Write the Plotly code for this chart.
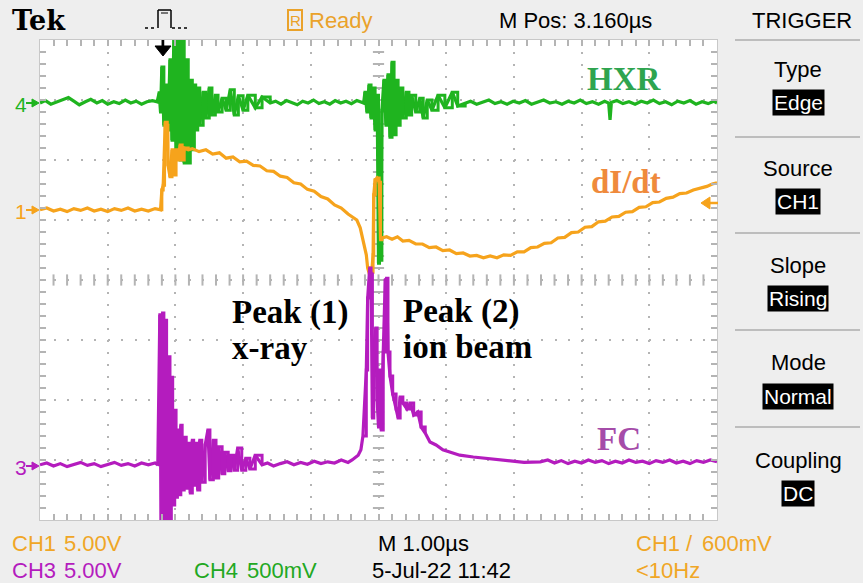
import plotly.graph_objects as go

W, H = 863, 583

def px(x):
    return x / W

def py(y):
    return 1 - y / H

# ---------------- data (time in µs, amplitude in screen divisions) ----------------
hxr_pts = [
    (0.00, 2.95), (0.08, 2.99), (0.16, 2.93), (0.25, 2.97), (0.33, 3.00), (0.42, 3.04), (0.50, 2.98),
    (0.58, 2.92), (0.67, 2.97), (0.75, 3.01), (0.84, 2.95), (0.92, 2.99), (1.00, 2.93), (1.09, 2.97),
    (1.17, 2.94), (1.26, 3.00), (1.34, 2.95), (1.42, 2.98), (1.50, 2.93), (1.58, 2.97), (1.66, 2.99),
    (1.73, 2.97), (1.76, 3.12), (1.78, 2.80), (1.80, 3.55), (1.83, 2.58), (1.86, 3.25), (1.89, 2.50),
    (1.92, 3.67), (1.95, 2.33), (1.98, 4.20), (2.01, 2.17), (2.04, 4.30), (2.07, 2.00), (2.10, 4.20),
    (2.13, 1.95), (2.16, 3.67), (2.19, 1.95), (2.22, 3.33), (2.25, 2.17), (2.28, 3.25), (2.30, 2.50),
    (2.33, 3.20), (2.36, 2.58), (2.41, 3.13), (2.45, 2.70), (2.50, 3.20), (2.54, 2.75), (2.59, 3.08),
    (2.63, 2.80), (2.69, 3.03), (2.75, 2.83), (2.81, 3.17), (2.87, 2.75), (2.93, 3.07), (3.00, 2.83),
    (3.07, 3.08), (3.18, 2.87), (3.28, 3.05), (3.40, 2.95),
    (3.48, 2.98), (3.56, 2.93), (3.64, 2.99), (3.72, 2.95), (3.80, 2.92), (3.88, 2.98), (3.96, 2.95),
    (4.04, 3.00), (4.12, 2.94), (4.20, 2.97), (4.28, 2.93), (4.36, 2.99), (4.44, 2.95), (4.52, 2.98),
    (4.60, 2.94), (4.68, 2.99), (4.78, 2.95),
    (4.80, 3.13), (4.83, 2.80), (4.86, 3.25), (4.89, 2.70), (4.92, 3.20), (4.95, 2.50), (4.98, 3.08),
    (5.00, 0.28), (5.015, 1.40), (5.03, 0.33), (5.05, 2.83), (5.08, 3.33), (5.11, 2.58), (5.14, 3.42),
    (5.17, 2.38), (5.20, 3.63), (5.23, 2.42), (5.26, 3.33), (5.29, 2.58), (5.32, 3.20), (5.36, 2.70),
    (5.41, 3.13), (5.45, 2.75), (5.49, 3.08), (5.55, 2.80), (5.61, 3.03), (5.66, 2.70), (5.72, 3.00),
    (5.79, 2.83), (5.88, 3.08), (5.98, 2.87), (6.09, 3.13), (6.17, 2.90), (6.28, 2.95),
    (6.36, 2.98), (6.45, 2.93), (6.54, 2.97), (6.63, 3.00), (6.72, 2.94), (6.81, 2.97), (6.90, 2.93),
    (6.99, 2.98), (7.08, 2.95), (7.17, 2.99), (7.26, 2.93), (7.35, 2.96), (7.44, 3.00), (7.53, 2.95),
    (7.62, 2.97), (7.71, 2.93), (7.80, 2.98), (7.89, 2.95), (7.98, 3.00), (8.07, 2.94), (8.16, 2.97),
    (8.25, 2.93), (8.34, 2.98), (8.40, 2.95), (8.42, 2.67), (8.44, 2.96), (8.52, 2.99), (8.61, 2.94),
    (8.70, 2.97), (8.79, 2.93), (8.88, 2.98), (8.97, 2.95), (9.06, 3.00), (9.15, 2.94), (9.24, 2.97),
    (9.33, 2.92), (9.42, 2.98), (9.51, 2.95), (9.60, 2.99), (9.69, 2.93), (9.78, 2.97), (9.87, 2.94),
    (9.95, 2.98), (10.0, 2.95),
]

didt_pts = [
    (0.00, 1.17), (0.10, 1.20), (0.20, 1.15), (0.30, 1.18), (0.40, 1.14), (0.50, 1.19), (0.60, 1.16),
    (0.70, 1.20), (0.80, 1.15), (0.90, 1.18), (1.00, 1.14), (1.10, 1.19), (1.20, 1.16), (1.30, 1.20),
    (1.40, 1.15), (1.50, 1.18), (1.60, 1.15), (1.70, 1.19), (1.78, 1.17),
    (1.80, 1.50), (1.82, 1.58), (1.84, 2.17), (1.85, 2.63), (1.88, 2.58), (1.89, 1.92), (1.92, 1.72),
    (1.95, 2.17), (1.98, 1.75), (2.01, 2.17), (2.04, 2.00), (2.07, 2.25), (2.10, 2.00), (2.13, 2.20),
    (2.19, 2.17), (2.25, 2.19), (2.35, 2.14), (2.45, 2.17), (2.55, 2.10), (2.65, 2.12), (2.75, 2.03),
    (2.85, 2.05), (2.95, 1.97), (3.05, 1.98), (3.15, 1.91), (3.25, 1.90), (3.35, 1.82), (3.45, 1.81),
    (3.55, 1.73), (3.65, 1.71), (3.75, 1.62), (3.85, 1.60), (3.95, 1.51), (4.05, 1.48), (4.15, 1.39),
    (4.25, 1.35), (4.35, 1.25), (4.45, 1.20), (4.55, 1.10), (4.62, 1.04), (4.68, 1.00), (4.73, 0.87),
    (4.77, 0.67), (4.82, 0.42), (4.84, 0.20), (4.87, 0.08), (4.90, 0.13), (4.92, 0.42), (4.93, 1.42),
    (4.95, 1.67), (4.98, 1.70), (5.01, 1.63), (5.03, 0.67), (5.05, 0.70),
    (5.12, 0.72), (5.20, 0.68), (5.28, 0.72), (5.36, 0.65), (5.45, 0.66), (5.55, 0.60), (5.65, 0.60),
    (5.75, 0.54), (5.85, 0.55), (5.95, 0.49), (6.05, 0.50), (6.15, 0.44), (6.25, 0.45), (6.35, 0.40),
    (6.45, 0.41), (6.55, 0.37), (6.65, 0.40), (6.75, 0.37), (6.85, 0.42), (6.95, 0.41), (7.05, 0.47),
    (7.15, 0.47), (7.25, 0.54), (7.35, 0.55), (7.45, 0.61), (7.55, 0.62), (7.65, 0.70), (7.75, 0.71),
    (7.85, 0.79), (7.95, 0.80), (8.05, 0.88), (8.15, 0.89), (8.25, 0.97), (8.35, 0.98), (8.45, 1.05),
    (8.55, 1.06), (8.65, 1.13), (8.75, 1.14), (8.85, 1.21), (8.95, 1.22), (9.05, 1.29), (9.15, 1.30),
    (9.25, 1.36), (9.35, 1.38), (9.45, 1.44), (9.55, 1.45), (9.65, 1.50), (9.75, 1.53), (9.85, 1.56),
    (9.93, 1.60), (10.0, 1.62),
]

fc_pts = [
    (0.00, -3.08), (0.10, -3.05), (0.20, -3.10), (0.30, -3.06), (0.40, -3.11), (0.50, -3.07),
    (0.60, -3.04), (0.70, -3.09), (0.80, -3.06), (0.90, -3.11), (1.00, -3.07), (1.10, -3.04),
    (1.20, -3.09), (1.30, -3.06), (1.40, -3.10), (1.50, -3.05), (1.60, -3.08), (1.70, -3.05),
    (1.74, -3.08), (1.77, -0.58), (1.79, -4.30), (1.81, -0.55), (1.83, -4.30), (1.85, -0.67),
    (1.87, -4.30), (1.90, -1.28), (1.92, -4.20), (1.94, -1.62), (1.96, -3.75), (1.99, -2.17),
    (2.01, -3.62), (2.03, -2.50), (2.05, -3.58), (2.08, -2.42), (2.10, -3.50), (2.13, -2.62),
    (2.16, -3.47), (2.19, -2.72), (2.22, -3.55), (2.25, -2.67), (2.27, -3.42), (2.30, -2.72),
    (2.33, -3.50), (2.36, -2.67), (2.39, -3.37), (2.44, -2.75), (2.48, -2.50), (2.51, -3.33),
    (2.56, -2.67), (2.60, -3.30), (2.64, -2.78), (2.69, -3.23), (2.73, -2.87), (2.78, -3.18),
    (2.82, -2.92), (2.87, -3.17), (2.92, -2.80), (2.98, -3.17), (3.04, -2.97), (3.10, -3.15),
    (3.18, -2.92), (3.28, -3.08),
    (3.36, -3.05), (3.45, -3.10), (3.55, -3.06), (3.65, -3.03), (3.75, -3.08), (3.85, -3.04),
    (3.95, -3.07), (4.05, -3.02), (4.15, -3.06), (4.25, -3.03), (4.35, -3.05), (4.45, -3.00),
    (4.55, -3.04), (4.61, -3.00), (4.70, -2.92), (4.74, -2.83), (4.77, -2.60), (4.82, -1.50),
    (4.84, -0.30), (4.87, 0.20), (4.89, 0.10), (4.91, -2.30), (4.93, -1.20), (4.96, -0.80),
    (4.98, -2.00), (5.00, -2.45), (5.02, -1.50), (5.04, -2.50), (5.07, -1.20), (5.10, 0.00),
    (5.12, 0.03), (5.14, -1.20), (5.17, -1.60), (5.21, -1.90), (5.26, -2.15), (5.29, -2.30),
    (5.32, -1.95), (5.36, -2.05), (5.42, -2.15), (5.47, -2.05), (5.52, -2.25), (5.58, -2.20),
    (5.63, -2.45), (5.69, -2.55), (5.76, -2.70), (5.85, -2.75), (5.95, -2.83), (6.06, -2.87),
    (6.20, -2.92), (6.40, -2.95), (6.65, -2.98), (6.90, -3.00), (7.15, -3.04), (7.39, -3.03),
    (7.50, -3.00), (7.60, -3.05), (7.70, -3.01), (7.80, -3.06), (7.90, -3.02), (8.00, -3.05),
    (8.10, -3.00), (8.20, -3.04), (8.30, -3.01), (8.40, -3.06), (8.50, -3.02), (8.60, -3.05),
    (8.70, -3.00), (8.80, -3.04), (8.90, -3.02), (9.00, -3.06), (9.10, -3.01), (9.20, -3.04),
    (9.30, -3.00), (9.40, -3.05), (9.50, -3.02), (9.60, -3.06), (9.70, -3.01), (9.80, -3.04),
    (9.90, -3.00), (10.0, -3.03),
]

# time windows (µs) where each channel shows a dense burst
hxr_bursts = [(1.73, 3.40), (4.78, 6.28)]
didt_bursts = [(1.78, 2.19), (4.84, 5.05)]
fc_bursts = [(1.74, 3.28), (4.77, 5.70)]

trigger_menu = [("Type", "Edge"), ("Source", "CH1"), ("Slope", "Rising"), ("Mode", "Normal"), ("Coupling", "DC")]

GREEN = "#1fb41f"
ORANGE = "#f6a31c"
PURPLE = "#b41cbe"
GRID = "#b4b4b4"
SANS = "Liberation Sans, Arial, sans-serif"
SERIF = "Liberation Serif, Times New Roman, serif"

fig = go.Figure()

def add_channel(pts, bursts, color, name):
    t = [p[0] for p in pts]
    v = [p[1] for p in pts]
    fig.add_trace(go.Scatter(x=t, y=v, mode="lines", name=name,
                             line=dict(color=color, width=3.2), hoverinfo="skip"))
    for a, b in bursts:
        bt = [p[0] for p in pts if a <= p[0] <= b]
        bv = [p[1] for p in pts if a <= p[0] <= b]
        fig.add_trace(go.Scatter(x=bt, y=bv, mode="lines", name=name,
                                 line=dict(color=color, width=3, shape="hv"), hoverinfo="skip"))

# center-line tick marks (graticule decoration)
cx = [0.2 * k for k in range(1, 50)]
fig.add_trace(go.Scatter(x=cx, y=[0] * len(cx), mode="markers", hoverinfo="skip",
                         marker=dict(symbol="line-ns", size=8, line=dict(color=GRID, width=2))))
cy = [-4 + 0.2 * k for k in range(1, 40)]
fig.add_trace(go.Scatter(x=[5] * len(cy), y=cy, mode="markers", hoverinfo="skip",
                         marker=dict(symbol="line-ew", size=8, line=dict(color=GRID, width=2))))

add_channel(hxr_pts, hxr_bursts, GREEN, "CH4")
add_channel(didt_pts, didt_bursts, ORANGE, "CH1")
add_channel(fc_pts, fc_bursts, PURPLE, "CH3")

ann = []

def text(x, y, s, size=22, color="black", family=SANS, anchor="left", **kw):
    ann.append(dict(x=px(x), y=py(y), xref="paper", yref="paper", text=s, showarrow=False,
                    xanchor=anchor, yanchor="middle", font=dict(size=size, color=color, family=family), **kw))

# header
text(10, 21, "<b>Tek</b>", size=27, family="DejaVu Serif, Liberation Serif, serif")
text(307, 20, "Ready", size=22, color="#eaa22a")
text(295, 20, "R", size=15, color="#eaa22a", anchor="center")
text(497, 20, "M Pos: 3.160\u00b5s", size=22)
text(750, 20, "TRIGGER", size=22)

# status bar
text(10, 543, "CH1", size=22, color="#f0a626")
text(62, 543, "5.00V", size=22, color="#f0a626")
text(376, 543, "M 1.00\u00b5s", size=22)
text(634, 543, "CH1", size=22, color="#f0a626")
text(684, 543, "/", size=22, color="#f0a626")
text(700, 543, "600mV", size=22, color="#f0a626")
text(10, 570, "CH3", size=22, color=PURPLE)
text(62, 570, "5.00V", size=22, color=PURPLE)
text(192, 570, "CH4", size=22, color="#22a822")
text(245, 570, "500mV", size=22, color="#22a822")
text(370, 570, "5-Jul-22 11:42", size=22)
text(634, 570, "<10Hz", size=22, color="#f0a626")

# trigger menu
menu_y = [(70, 103), (168, 201), (265, 298), (362, 396), (460, 493)]
for (lab, val), (y1, y2) in zip(trigger_menu, menu_y):
    text(798, y1, lab, size=22, anchor="center")
    text(798, y2, val, size=21, color="white", anchor="center", bgcolor="black", borderpad=1)

# channel markers
text(13, 104, "4", size=21, color=GREEN)
text(13, 211, "1", size=21, color=ORANGE)
text(13, 467, "3", size=21, color=PURPLE)

# in-plot labels
text(624, 79, "<b>HXR</b>", size=33, color="#2ea44f", family=SERIF, anchor="center")
text(626, 182, "<b>dI/dt</b>", size=33, color="#ef8a3c", family=SERIF, anchor="center")
text(230, 312, "<b>Peak (1)</b>", size=33, family=SERIF)
text(230, 348, "<b>x-ray</b>", size=33, family=SERIF)
text(401, 311, "<b>Peak (2)</b>", size=33, family=SERIF)
text(401, 347, "<b>ion beam</b>", size=33, family=SERIF)
text(619, 439, "<b>FC</b>", size=33, color="#a54ca9", family=SERIF, anchor="center")

shapes = []

def line(x0, y0, x1, y1, color, width=2, dash="solid"):
    shapes.append(dict(type="line", xref="paper", yref="paper", x0=px(x0), y0=py(y0), x1=px(x1), y1=py(y1),
                       line=dict(color=color, width=width, dash=dash)))

def poly(points, color):
    d = "M " + " L ".join(f"{px(a):.5f},{py(b):.5f}" for a, b in points) + " Z"
    shapes.append(dict(type="path", xref="paper", yref="paper", path=d, fillcolor=color,
                       line=dict(color=color, width=1)))

# menu separators
for yy in (40, 137, 233, 330, 427):
    line(735, yy, 860, yy, "#bdbdbd", 2)

# channel arrows
for yy, c in ((103, GREEN), (210, ORANGE), (466, PURPLE)):
    line(26, yy, 36, yy, c, 2)
    poly([(32, yy - 4), (39, yy), (32, yy + 4)], c)

# trigger position marker
line(163, 40, 163, 48, "black", 2.5)
poly([(155, 46), (171, 46), (163, 56)], "black")

# trigger level marker
line(706, 203, 718, 203, ORANGE, 2.5)
poly([(701, 203), (710, 197), (710, 209)], ORANGE)

# acquisition icon
line(145, 28, 157, 28, "black", 1.5, "dot")
line(158, 28, 158, 10, "black", 1.5)
line(158, 10, 171, 10, "black", 1.5)
line(161, 13, 168, 13, "black", 1)
line(171, 10, 171, 28, "black", 1.5)
line(172, 28, 188, 28, "black", 1.5, "dot")

# "R" box
shapes.append(dict(type="rect", xref="paper", yref="paper", x0=px(288), x1=px(302), y0=py(30), y1=py(10),
                   line=dict(color="#eaa22a", width=2)))

fig.update_layout(
    width=W, height=H,
    margin=dict(l=0, r=0, t=0, b=0),
    paper_bgcolor="#eeeeee",
    plot_bgcolor="white",
    showlegend=False,
    annotations=ann,
    shapes=shapes,
    xaxis=dict(range=[0, 10], domain=[px(40), px(717)], dtick=1, tick0=0,
               showgrid=True, gridcolor=GRID, gridwidth=2, griddash="2px,10px",
               zeroline=False, showticklabels=False,
               ticks="inside", ticklen=6, tickcolor=GRID, tickwidth=1.5,
               minor=dict(dtick=0.2, ticks="inside", ticklen=6, tickcolor=GRID, tickwidth=1.5, showgrid=False),
               mirror="allticks", showline=True, linecolor="#c8c8c8", linewidth=1, fixedrange=True),
    yaxis=dict(range=[-4, 4], domain=[py(520), py(40)], dtick=1, tick0=0,
               showgrid=True, gridcolor=GRID, gridwidth=2, griddash="2px,11.54px",
               zeroline=False, showticklabels=False,
               ticks="inside", ticklen=6, tickcolor=GRID, tickwidth=1.5,
               minor=dict(dtick=0.2, ticks="inside", ticklen=6, tickcolor=GRID, tickwidth=1.5, showgrid=False),
               mirror="allticks", showline=True, linecolor="#c8c8c8", linewidth=1, fixedrange=True),
)

fig.write_html("out.html")
